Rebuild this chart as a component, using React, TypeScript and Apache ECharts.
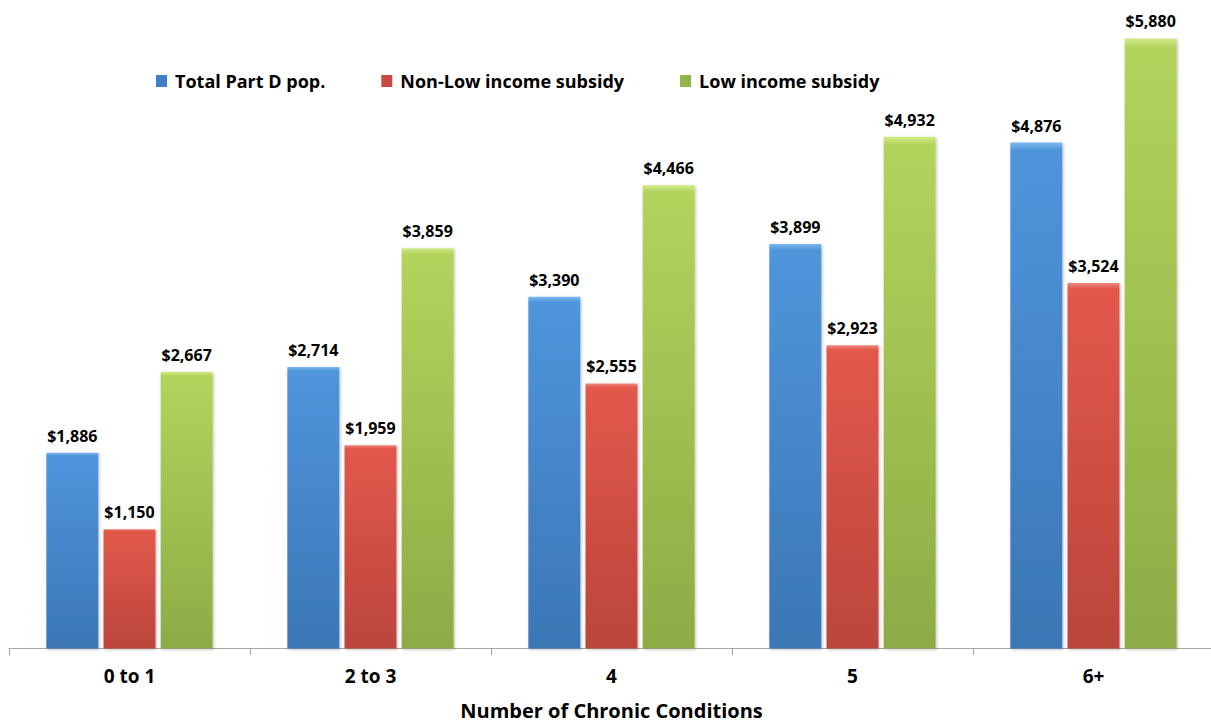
import React, { useEffect, useRef } from "react";
import * as echarts from "echarts";

const categories = ["0 to 1", "2 to 3", "4", "5", "6+"];
const seriesNames = ["Total Part D pop.", "Non-Low income subsidy", "Low income subsidy"];
const totalPartD = [1886, 2714, 3390, 3899, 4876];
const nonLowIncome = [1150, 1959, 2555, 2923, 3524];
const lowIncome = [2667, 3859, 4466, 4932, 5880];
const axisTitle = "Number of Chronic Conditions";

const FONT = "'Open Sans', 'Noto Sans', sans-serif";

function grad(top: string, mid: string, bottom: string) {
  return new echarts.graphic.LinearGradient(0, 0, 0, 1, [
    { offset: 0, color: top },
    { offset: 0.015, color: mid },
    { offset: 1, color: bottom },
  ]);
}

export default function App() {
  const ref = useRef<HTMLDivElement>(null);
  useEffect(() => {
    if (!ref.current) return;
    const chart = echarts.init(ref.current, undefined, { renderer: "svg" });
    const label = {
      show: true,
      position: "top" as const,
      distance: 9,
      fontFamily: FONT,
      fontWeight: "bold" as const,
      fontSize: 16,
      color: "#000",
      formatter: (p: any) => "$" + Number(p.value).toLocaleString("en-US"),
    };
    const itemBase = {
      shadowBlur: 3,
      shadowColor: "rgba(0,0,0,0.25)",
      shadowOffsetX: 1,
      shadowOffsetY: 1,
    };
    const colors = [
      { top: "#7ab8ee", mid: "#4f95dc", bottom: "#3b76b5", legend: "#3f80c8" },
      { top: "#f08a80", mid: "#e2584c", bottom: "#bb453b", legend: "#c94a40" },
      { top: "#d2ea8a", mid: "#b2d45c", bottom: "#8dab45", legend: "#92b34a" },
    ];
    const datas = [totalPartD, nonLowIncome, lowIncome];
    chart.setOption({
      animation: false,
      backgroundColor: "#fff",
      grid: {
        left: 9,
        width: 1205,
        top: 26,
        height: 622.5,
        containLabel: false,
        outerBoundsMode: "none",
      },
      legend: {
        left: 156,
        top: 72,
        padding: 0,
        itemWidth: 11,
        itemHeight: 12,
        itemGap: 56,
        icon: "rect",
        textStyle: { fontFamily: FONT, fontWeight: "bold", fontSize: 18, color: "#000", padding: [0, 0, 0, 3] },
        data: seriesNames.map((n, i) => ({ name: n, itemStyle: { color: colors[i].legend } })),
      },
      xAxis: {
        type: "category",
        data: categories,
        axisLine: { lineStyle: { color: "#a6a6a6", width: 1 } },
        axisTick: { show: true, length: 7, lineStyle: { color: "#a6a6a6" } },
        axisLabel: {
          margin: 18,
          fontFamily: FONT,
          fontWeight: "bold",
          fontSize: 19,
          color: "#000",
        },
        name: axisTitle,
        nameLocation: "middle",
        nameGap: 52,
        nameTextStyle: {
          fontFamily: FONT,
          fontWeight: "bold",
          fontSize: 20,
          lineHeight: 20,
          color: "#000",
        },
      },
      yAxis: {
        type: "value",
        min: 0,
        max: 6000,
        show: false,
        splitLine: { show: false },
      },
      series: seriesNames.map((n, i) => ({
        name: n,
        type: "bar",
        data: datas[i],
        barGap: "10%",
        barCategoryGap: "31%",
        label,
        itemStyle: { ...itemBase, color: grad(colors[i].top, colors[i].mid, colors[i].bottom) },
      })),
    });
    return () => chart.dispose();
  }, []);
  return (
    <div
      ref={ref}
      style={{ position: "fixed", left: 0, top: 0, width: 1211, height: 723, background: "#fff" }}
    />
  );
}
